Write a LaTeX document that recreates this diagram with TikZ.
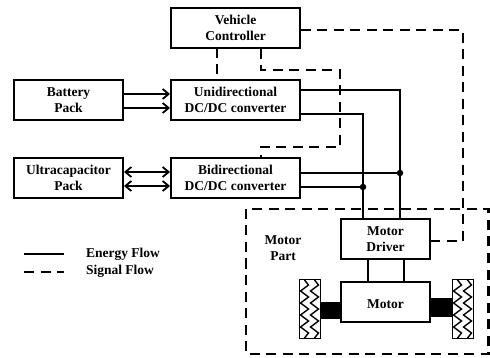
\documentclass[tikz,border=0pt]{standalone}
\usepackage{fontspec}
\setmainfont{Liberation Serif}
\usetikzlibrary{arrows.meta}
\tikzset{
  block/.style={draw, line width=1.9pt, minimum width=129pt, minimum height=40pt, align=center, inner sep=0pt, font=\bfseries\fontsize{13.5}{16.6}\selectfont, execute at begin node={\rule{0pt}{13pt}}},
  label/.style={align=center, font=\bfseries\fontsize{13.5}{16.6}\selectfont},
  energy/.style={line width=1.8pt},
  signal/.style={line width=2.2pt, dash pattern=on 10pt off 6.5pt},
  flow/.style={energy, -{Straight Barb[length=6pt,width=10pt]}},
  both/.style={energy, {Straight Barb[length=6pt,width=10pt]}-{Straight Barb[length=6pt,width=10pt]}},
  joint/.style={circle, fill=black, inner sep=0pt, minimum size=6.5pt},
  wheel/.style={draw, line width=1.8pt, minimum width=21pt, minimum height=59pt, inner sep=0pt},
}
\begin{document}
\begin{tikzpicture}[x=1pt, y=-1pt]
      \useasboundingbox (0,0) rectangle (490,358);
      % Converters and sources
      \node[block] (controller) at (235.5,28) {Vehicle\\Controller};
      \node[block] (uni) at (235.5,100) {Unidirectional\\DC/DC converter};
      \node[block] (bi) at (235.5,178) {Bidirectional\\DC/DC converter};
      \node[block, minimum width=109pt] (battery) at (68.5,100) {Battery\\Pack};
      \node[block, minimum width=109pt] (ultra) at (68.5,178) {Ultracapacitor\\Pack};

      % Motor part
      \node[block, minimum width=89pt] (driver) at (385.5,239) {Motor\\Driver};
      \node[block, minimum width=89pt] (motor) at (385.5,302) {Motor};
      \node[wheel] (wheelL) at (310,309) {};
      \node[wheel] (wheelR) at (463,309) {};
      \node[label] (partlabel) at (283,248) {Motor\\Part};
      \draw[signal] (246,209) rectangle (488.5,354);

      % Zigzag tread
      \foreach \w/\c in {wheelL/310, wheelR/463} {
            \foreach \o in {-5.5,4.5} {
                  \draw[line width=1.4pt] (\c+\o,280) -- ++(4,5) -- ++(-8,6) -- ++(8,6) -- ++(-8,6) -- ++(8,6) -- ++(-8,6) -- ++(8,6) -- ++(-8,6) -- ++(8,6) -- ++(-4,5);
            }
      }

      % Axles
      \fill (wheelL.east |- 0,302) rectangle (motor.west |- 0,319);
      \fill (motor.east |- 0,298) rectangle (wheelR.west |- 0,317);

      % Energy flow
      \foreach \a/\b in {-6/-5,8/9} {
            \draw[flow] ([yshift=-\a pt]battery.east) -- ([yshift=-\a pt]uni.west);
            \draw[both] ([yshift=-\b pt+1pt]ultra.east) -- ([yshift=-\b pt+1pt]bi.west);
      }
      \coordinate (dropA) at ([xshift=-22.5pt]driver.north);
      \coordinate (dropB) at ([xshift=14.5pt]driver.north);
      \draw[energy] ([yshift=10pt]uni.east) -| (dropB);
      \draw[energy] ([yshift=-14pt]uni.east) -| (dropA);
      \node[joint] (jointB) at (dropB |- 0,173) {};
      \node[joint] (jointA) at (dropA |- 0,187) {};
      \draw[energy] (bi.east |- jointB) -- (jointB);
      \draw[energy] (bi.east |- jointA) -- (jointA);
      \foreach \x in {-17.5,18.5} {
            \draw[energy] ([xshift=\x pt]driver.south) -- ([xshift=\x pt]motor.north);
      }

      % Signal flow
      \coordinate (legA) at (463,30);
      \coordinate (legB) at (463,241);
      \draw[signal] (controller.east |- legA) -- (legA) -- (legB) -- (driver.east |- legB);
      \coordinate (sigE) at (217,48);
      \draw[signal] (sigE) -- (sigE |- uni.north);
      \coordinate (sigA) at (261,70);
      \coordinate (sigB) at (340,70);
      \coordinate (sigC) at (340,147);
      \coordinate (sigD) at (261,147);
      \draw[signal] (sigA |- controller.south) -- (sigA) -- (sigB) -- (sigC) -- (sigD) -- (sigD |- bi.north);

      % Legend
      \coordinate (legendA) at (24,254);
      \coordinate (legendB) at (64,254);
      \coordinate (legendC) at (24,272);
      \coordinate (legendD) at (64,272);
      \draw[energy] (legendA) -- (legendB);
      \draw[signal] (legendC) -- (legendD);
      \node[label, anchor=west] (energylabel) at (82.5,254) {Energy Flow};
      \node[label, anchor=west] (signallabel) at (82.5,271) {Signal Flow};
\end{tikzpicture}
\end{document}
